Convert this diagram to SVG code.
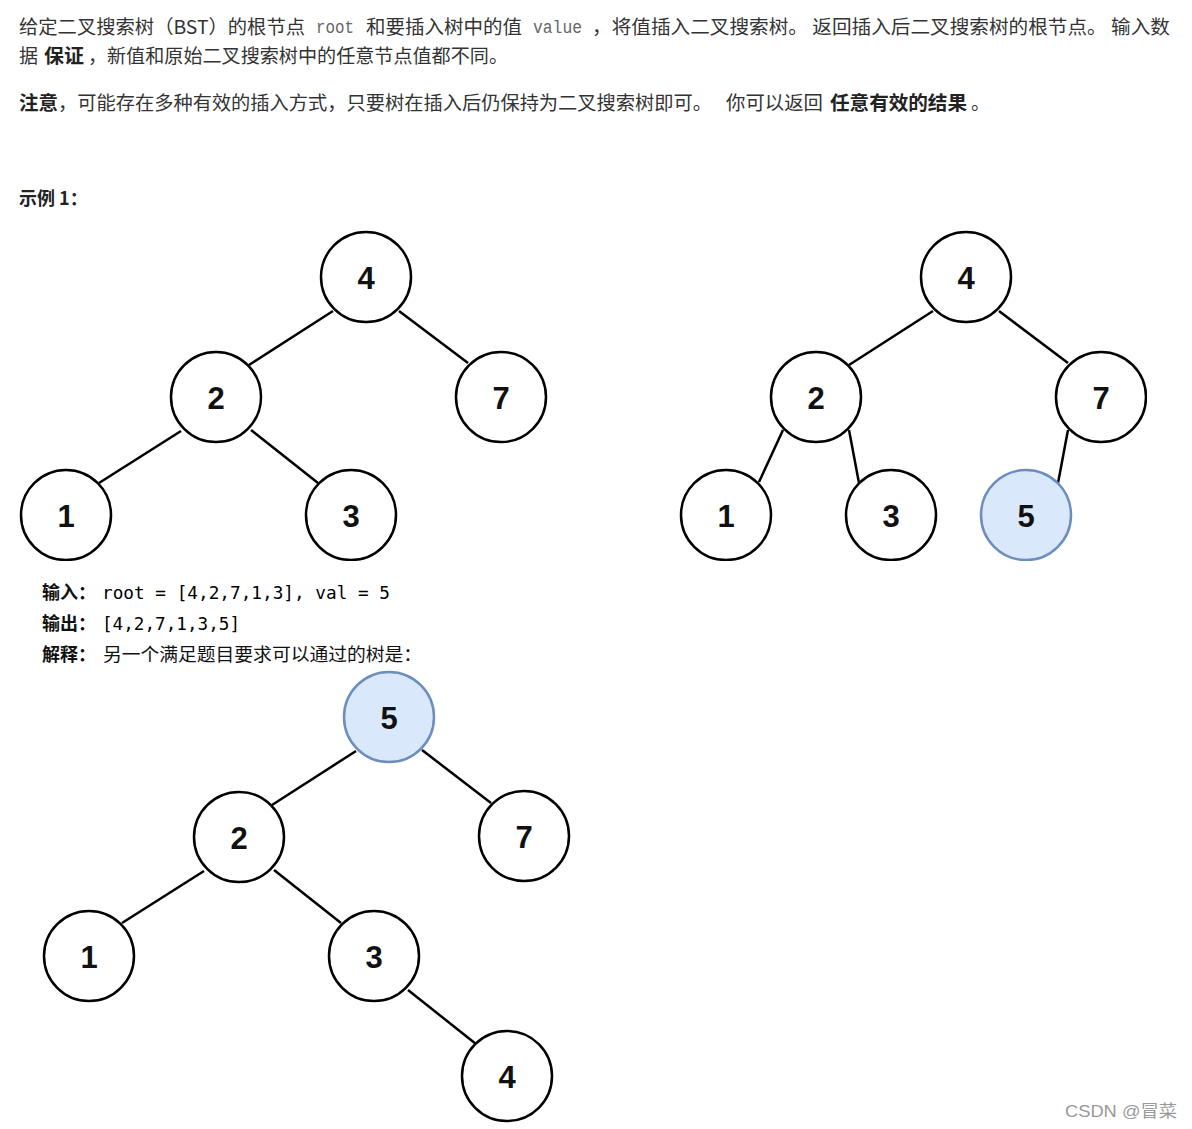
<svg xmlns="http://www.w3.org/2000/svg" width="1192" height="1129" viewBox="0 0 1192 1129">
<style>
.t{font-family:"Noto Sans CJK SC","Liberation Sans",sans-serif;font-size:19px;fill:#333}
.b{font-weight:bold;fill:#222}
.c{font-family:"Liberation Mono",monospace;font-size:18px;fill:#666}
.m{font-family:"DejaVu Sans Mono","Liberation Mono",monospace;font-size:17px;fill:#000}
.s{font-family:"Noto Sans CJK SC",sans-serif;font-size:18px;fill:#111}
.n circle{fill:#fff;stroke:#000;stroke-width:2.5}
.n.h circle{fill:#dae8fc;stroke:#6c8ebf}
.n text{font-family:"Liberation Sans",Arial,sans-serif;font-weight:bold;font-size:31px;text-anchor:middle;fill:#111}
.e line{stroke:#000;stroke-width:2.5}
</style>
<rect width="1192" height="1129" fill="#fff"/>
<g id="text">
<text class="t" x="19" y="34" textLength="286" lengthAdjust="spacingAndGlyphs">给定二叉搜索树（BST）的根节点</text>
<text class="c" x="316" y="33" textLength="38" lengthAdjust="spacingAndGlyphs">root</text>
<text class="t" x="366" y="34" textLength="156" lengthAdjust="spacingAndGlyphs">和要插入树中的值</text>
<text class="c" x="533" y="33" textLength="49" lengthAdjust="spacingAndGlyphs">value</text>
<text class="t" x="592" y="34" textLength="578" lengthAdjust="spacingAndGlyphs">，将值插入二叉搜索树。 返回插入后二叉搜索树的根节点。 输入数</text>
<text class="t" x="19" y="63">据</text>
<text class="t b" x="44" y="63" textLength="40" lengthAdjust="spacingAndGlyphs">保证</text>
<text class="t" x="88" y="63">，</text>
<text class="t" x="107" y="63" textLength="401" lengthAdjust="spacingAndGlyphs">新值和原始二叉搜索树中的任意节点值都不同。</text>
<text class="t b" x="19" y="110" textLength="39" lengthAdjust="spacingAndGlyphs">注意</text>
<text class="t" x="58" y="110" textLength="654" lengthAdjust="spacingAndGlyphs">，可能存在多种有效的插入方式，只要树在插入后仍保持为二叉搜索树即可。</text>
<text class="t" x="726" y="110" textLength="97" lengthAdjust="spacingAndGlyphs">你可以返回</text>
<text class="t b" x="830" y="110" textLength="137" lengthAdjust="spacingAndGlyphs">任意有效的结果</text>
<text class="t" x="971" y="110">。</text>
<text class="t b" x="19" y="205" style="font-size:18px">示例 1：</text>
<text class="s b" x="42" y="599">输入：</text>
<text class="m" x="102" y="599" textLength="288" lengthAdjust="spacingAndGlyphs">root = [4,2,7,1,3], val = 5</text>
<text class="s b" x="42" y="630">输出：</text>
<text class="m" x="102" y="630" textLength="138" lengthAdjust="spacingAndGlyphs">[4,2,7,1,3,5]</text>
<text class="s b" x="42" y="661">解释：</text>
<text class="s" x="103" y="661" textLength="319" lengthAdjust="spacingAndGlyphs">另一个满足题目要求可以通过的树是：</text>
<text x="1065" y="1117" style="font-family:'Liberation Sans','Noto Sans CJK SC',sans-serif;font-size:17px;fill:#999" textLength="112" lengthAdjust="spacingAndGlyphs">CSDN @冒菜</text>
</g>
<g id="connectors" class="e">
<line x1="333" y1="311" x2="249" y2="365"/>
<line x1="399" y1="311" x2="468" y2="363"/>
<line x1="181" y1="431" x2="99" y2="483"/>
<line x1="251" y1="430" x2="318" y2="483"/>
<line x1="933" y1="311" x2="849" y2="365"/>
<line x1="999" y1="311" x2="1068" y2="363"/>
<line x1="783" y1="430" x2="759" y2="482"/>
<line x1="849" y1="430" x2="859" y2="483"/>
<line x1="1068" y1="430" x2="1058" y2="483"/>
<line x1="356" y1="751" x2="272" y2="805"/>
<line x1="422" y1="750" x2="491" y2="803"/>
<line x1="204" y1="871" x2="122" y2="923"/>
<line x1="274" y1="870" x2="341" y2="923"/>
<line x1="408" y1="990" x2="476" y2="1044"/>
</g>
<g id="t1-4" class="n"><circle cx="366" cy="277" r="45"/><text x="366" y="289">4</text></g>
<g id="t1-2" class="n"><circle cx="216" cy="397" r="45"/><text x="216" y="409">2</text></g>
<g id="t1-7" class="n"><circle cx="501" cy="397" r="45"/><text x="501" y="409">7</text></g>
<g id="t1-1" class="n"><circle cx="66" cy="515" r="45"/><text x="66" y="527">1</text></g>
<g id="t1-3" class="n"><circle cx="351" cy="515" r="45"/><text x="351" y="527">3</text></g>
<g id="t2-4" class="n"><circle cx="966" cy="277" r="45"/><text x="966" y="289">4</text></g>
<g id="t2-2" class="n"><circle cx="816" cy="397" r="45"/><text x="816" y="409">2</text></g>
<g id="t2-7" class="n"><circle cx="1101" cy="397" r="45"/><text x="1101" y="409">7</text></g>
<g id="t2-1" class="n"><circle cx="726" cy="515" r="45"/><text x="726" y="527">1</text></g>
<g id="t2-3" class="n"><circle cx="891" cy="515" r="45"/><text x="891" y="527">3</text></g>
<g id="t2-5" class="n h"><circle cx="1026" cy="515" r="45"/><text x="1026" y="527">5</text></g>
<g id="t3-5" class="n h"><circle cx="389" cy="717" r="45"/><text x="389" y="729">5</text></g>
<g id="t3-2" class="n"><circle cx="239" cy="837" r="45"/><text x="239" y="849">2</text></g>
<g id="t3-7" class="n"><circle cx="524" cy="836" r="45"/><text x="524" y="848">7</text></g>
<g id="t3-1" class="n"><circle cx="89" cy="956" r="45"/><text x="89" y="968">1</text></g>
<g id="t3-3" class="n"><circle cx="374" cy="956" r="45"/><text x="374" y="968">3</text></g>
<g id="t3-4" class="n"><circle cx="507" cy="1076" r="45"/><text x="507" y="1088">4</text></g>
<rect x="1147" y="340" width="45" height="120" fill="#fff"/>
<rect x="0" y="561" width="1192" height="6" fill="#fff"/>
</svg>
